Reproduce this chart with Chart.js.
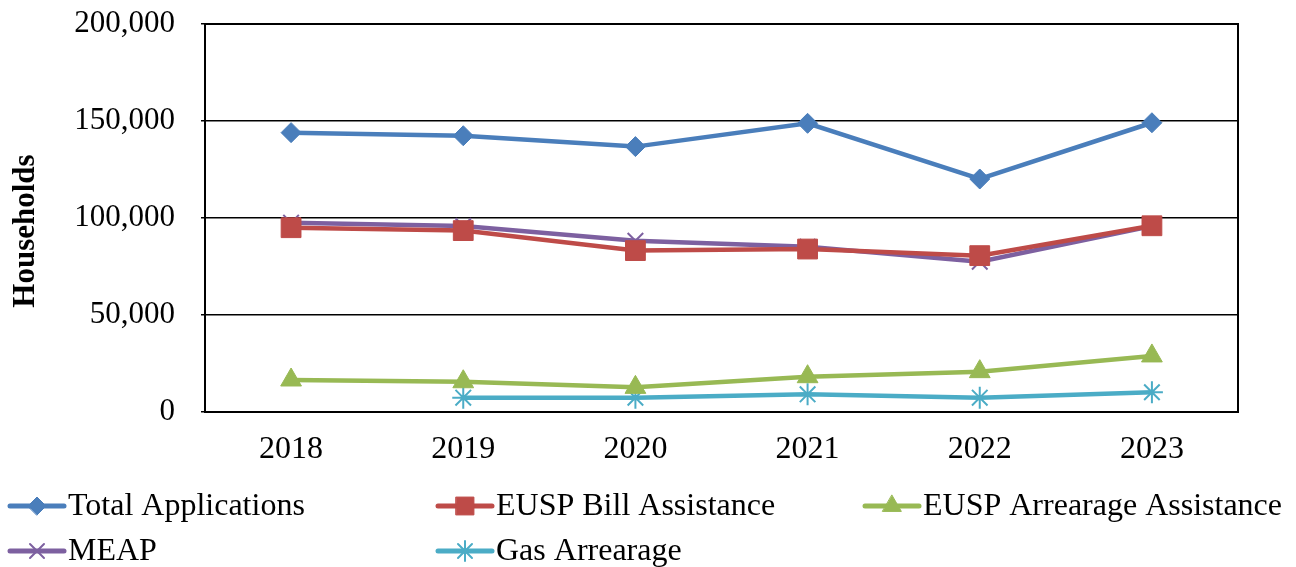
<!DOCTYPE html>
<html>
<head>
<meta charset="utf-8">
<script src="https://cdn.jsdelivr.net/npm/chart.js@4/dist/chart.umd.min.js"></script>
<style>
  html, body { margin: 0; padding: 0; background: #fff; }
  #chart { display: block; }
</style>
</head>
<body>
<canvas id="chart" width="1296" height="567"></canvas>
<script>
// data
var years = ['2018', '2019', '2020', '2021', '2022', '2023'];
var totalApplications = [144000, 142400, 136800, 148800, 120100, 149100];
var euspBill = [95000, 93500, 83200, 84000, 80600, 96000];
var euspArrearage = [16500, 15600, 12700, 18200, 20800, 28900];
var meap = [97600, 95900, 88300, 85200, 77500, 95900];
var gasArrearage = [null, 7400, 7400, 9100, 7400, 10200];
var yTicks = [0, 50000, 100000, 150000, 200000];

var serif = "'Liberation Serif', 'Times New Roman', serif";

function series(label, data, color, style, radius) {
    return {
        label: label,
        data: data,
        borderColor: color,
        backgroundColor: color,
        borderWidth: 4.5,
        pointStyle: style,
        pointRadius: radius,
        pointHoverRadius: radius,
        pointBorderWidth: style == 'crossRot' || style == 'star' ? 2 : 1,
        tension: 0,
        spanGaps: false
    };
}

var datasets = [
    series('Total Applications', totalApplications, '#4A7EBB', 'rectRot', 10),
    series('EUSP Bill Assistance', euspBill, '#BE4B48', 'rect', 14),
    series('EUSP Arrearage Assistance', euspArrearage, '#98B954', 'triangle', 12),
    series('MEAP', meap, '#7D60A0', 'crossRot', 11),
    series('Gas Arrearage', gasArrearage, '#4BACC6', 'star', 11)
];

// box round the plot area, plus the y title placed as in the original
var frame = {
    id: 'frame',
    afterDraw: function(chart) {
        var a = chart.chartArea, ctx = chart.ctx;
        ctx.save();
        ctx.strokeStyle = '#000';
        ctx.lineWidth = 2;
        ctx.strokeRect(a.left, a.top, a.right - a.left, a.bottom - a.top);
        ctx.translate(26, 231);
        ctx.rotate(-Math.PI / 2);
        ctx.fillStyle = '#000';
        ctx.font = 'bold 31px ' + serif;
        ctx.textAlign = 'center';
        ctx.textBaseline = 'middle';
        ctx.fillText('Households', 0, 0);
        ctx.restore();
    }
};

// legend laid out in columns like the original
var legendCols = [10, 438, 865];
var legendRows = [506, 551];
var columnLegend = {
    id: 'columnLegend',
    afterDraw: function(chart) {
        var ctx = chart.ctx;
        ctx.save();
        chart.data.datasets.forEach(function(ds, i) {
            var x = legendCols[i % 3], y = legendRows[Math.floor(i / 3)];
            ctx.strokeStyle = ds.borderColor;
            ctx.lineWidth = 5;
            ctx.lineCap = 'round';
            ctx.beginPath();
            ctx.moveTo(x, y);
            ctx.lineTo(x + 54, y);
            ctx.stroke();
            ctx.fillStyle = ds.backgroundColor;
            ctx.lineWidth = ds.pointBorderWidth;
            Chart.helpers.drawPoint(ctx, {
                pointStyle: ds.pointStyle,
                radius: ds.pointRadius * 0.9,
                borderWidth: ds.pointBorderWidth
            }, x + 27, y);
            ctx.fillStyle = '#000';
            ctx.font = '32px ' + serif;
            ctx.textBaseline = 'middle';
            ctx.fillText(ds.label, x + 58, y + 1);
        });
        ctx.restore();
    }
};

new Chart(document.getElementById('chart'), {
    type: 'line',
    data: { labels: years, datasets: datasets },
    plugins: [frame, columnLegend],
    options: {
        responsive: false,
        animation: false,
        layout: { padding: { left: 0, top: 24, right: 58, bottom: 0 } },
        plugins: {
            legend: { display: false },
            tooltip: { enabled: false }
        },
        scales: {
            x: {
                offset: true,
                grid: { display: false },
                border: { color: '#000', width: 2 },
                ticks: { color: '#000', font: { family: serif, size: 32 }, padding: 10 },
                afterFit: function(s) { s.height = 155; }
            },
            y: {
                min: 0,
                max: 200000,
                afterBuildTicks: function(s) {
                    s.ticks = yTicks.map(function(v) { return { value: v }; });
                },
                grid: { color: '#000', lineWidth: 1.5, tickLength: 4 },
                border: { color: '#000', width: 2 },
                ticks: {
                    color: '#000',
                    font: { family: serif, size: 31 },
                    padding: 26,
                    callback: function(v) { return v.toLocaleString('en-US'); }
                },
                afterFit: function(s) {
                    s.width = 205;
                    s.paddingTop = 0;
                    s.paddingBottom = 0;
                }
            }
        }
    }
});
</script>
</body>
</html>
